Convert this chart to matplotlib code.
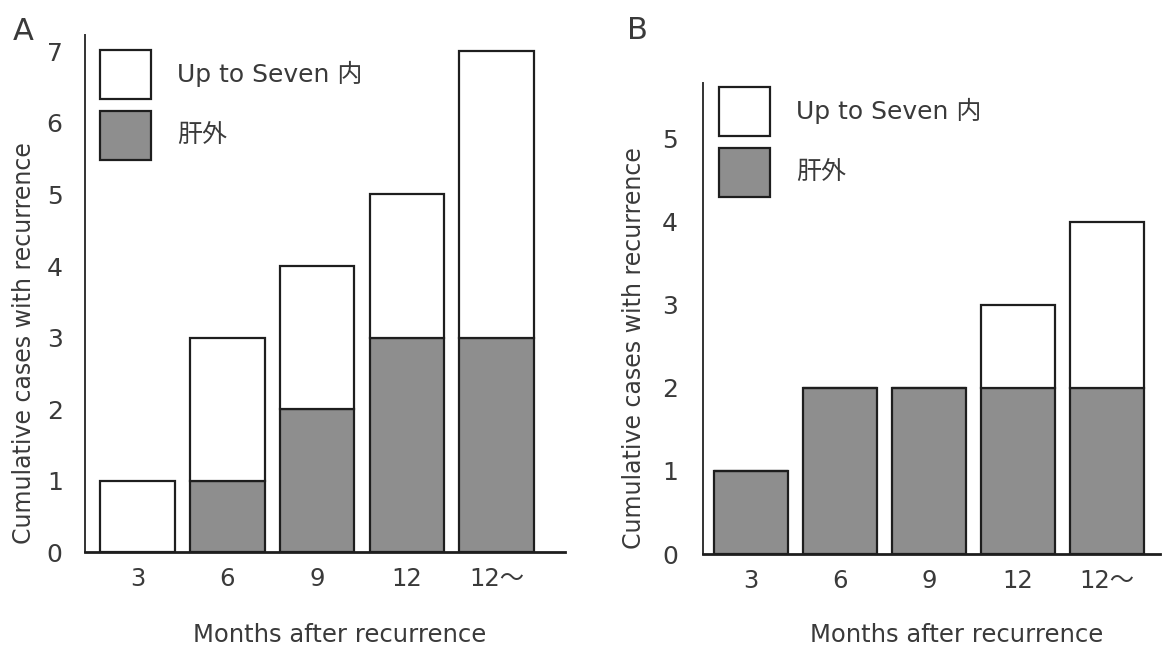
import matplotlib.pyplot as plt
import numpy as np

plt.rcParams['font.family'] = ['DejaVu Sans', 'Noto Sans CJK JP']

# data
months = ["3", "6", "9", "12", "12〜"]
a_extra = [0, 1, 2, 3, 3]        # 肝外
a_upto7 = [1, 2, 2, 2, 4]        # Up to Seven 内
b_extra = [1, 2, 2, 2, 2]
b_upto7 = [0, 0, 0, 1, 2]

gray = '#8e8e8e'
ink = '#1e1e1e'
txt = '#3a3a3a'

fig = plt.figure(figsize=(11.64, 6.48), dpi=100)
axA = fig.add_axes([0.073, 0.148, 0.4124, 0.798])
axB = fig.add_axes([0.604, 0.145, 0.3926, 0.727])


def draw(ax, extra, upto7, ymax, xlim, xlab_xy, ylab_xy, yticks, ytpad, leg_xy):
    x = np.arange(len(months))
    b1 = ax.bar(x, extra, width=0.83, color=gray, edgecolor=ink, linewidth=1.6,
                label='肝外', zorder=2)
    b2 = ax.bar(x, upto7, width=0.83, bottom=extra, color='white', edgecolor=ink,
                linewidth=1.6, label='Up to Seven 内', zorder=2)
    ax.set_xlim(*xlim)
    ax.set_ylim(0, ymax)
    ax.set_xticks(x)
    ax.set_xticklabels(months, fontsize=17.5, color=txt)
    ax.set_yticks(yticks)
    ax.set_yticklabels([str(t) for t in yticks], fontsize=18, color=txt)
    ax.tick_params(axis='both', length=0)
    ax.tick_params(axis='x', pad=11)
    ax.tick_params(axis='y', pad=ytpad)
    for s in ['top', 'right']:
        ax.spines[s].set_visible(False)
    ax.spines['left'].set_linewidth(1.4)
    ax.spines['left'].set_color('#333333')
    ax.spines['bottom'].set_linewidth(2)
    ax.spines['bottom'].set_color(ink)
    ax.set_xlabel('Months after recurrence', fontsize=17.5, color=txt)
    ax.xaxis.set_label_coords(*xlab_xy)
    ax.set_ylabel('Cumulative cases with recurrence', fontsize=17, color=txt)
    ax.yaxis.set_label_coords(*ylab_xy)
    ax.legend(handles=[b2, b1], loc='upper left', bbox_to_anchor=leg_xy,
              frameon=False, fontsize=18, handlelength=2.04, handleheight=2.62,
              labelspacing=0.5, handletextpad=1.04, borderpad=0, borderaxespad=0,
              labelcolor=txt)


draw(axA, a_extra, a_upto7, 7.23, (-0.585, 4.76), (0.531, -0.137),
     (-0.102, 0.405), range(0, 8), 16, (0.031, 0.971))
draw(axB, b_extra, b_upto7, 5.67, (-0.54, 4.6), (0.554, -0.146),
     (-0.125, 0.437), range(0, 6), 18, (0.035, 0.991))

fig.text(0.011, 0.952, 'A', fontsize=22, color=txt, va='center')
fig.text(0.539, 0.953, 'B', fontsize=22, color=txt, va='center')

fig.savefig('out.png', dpi=100, facecolor='white')
